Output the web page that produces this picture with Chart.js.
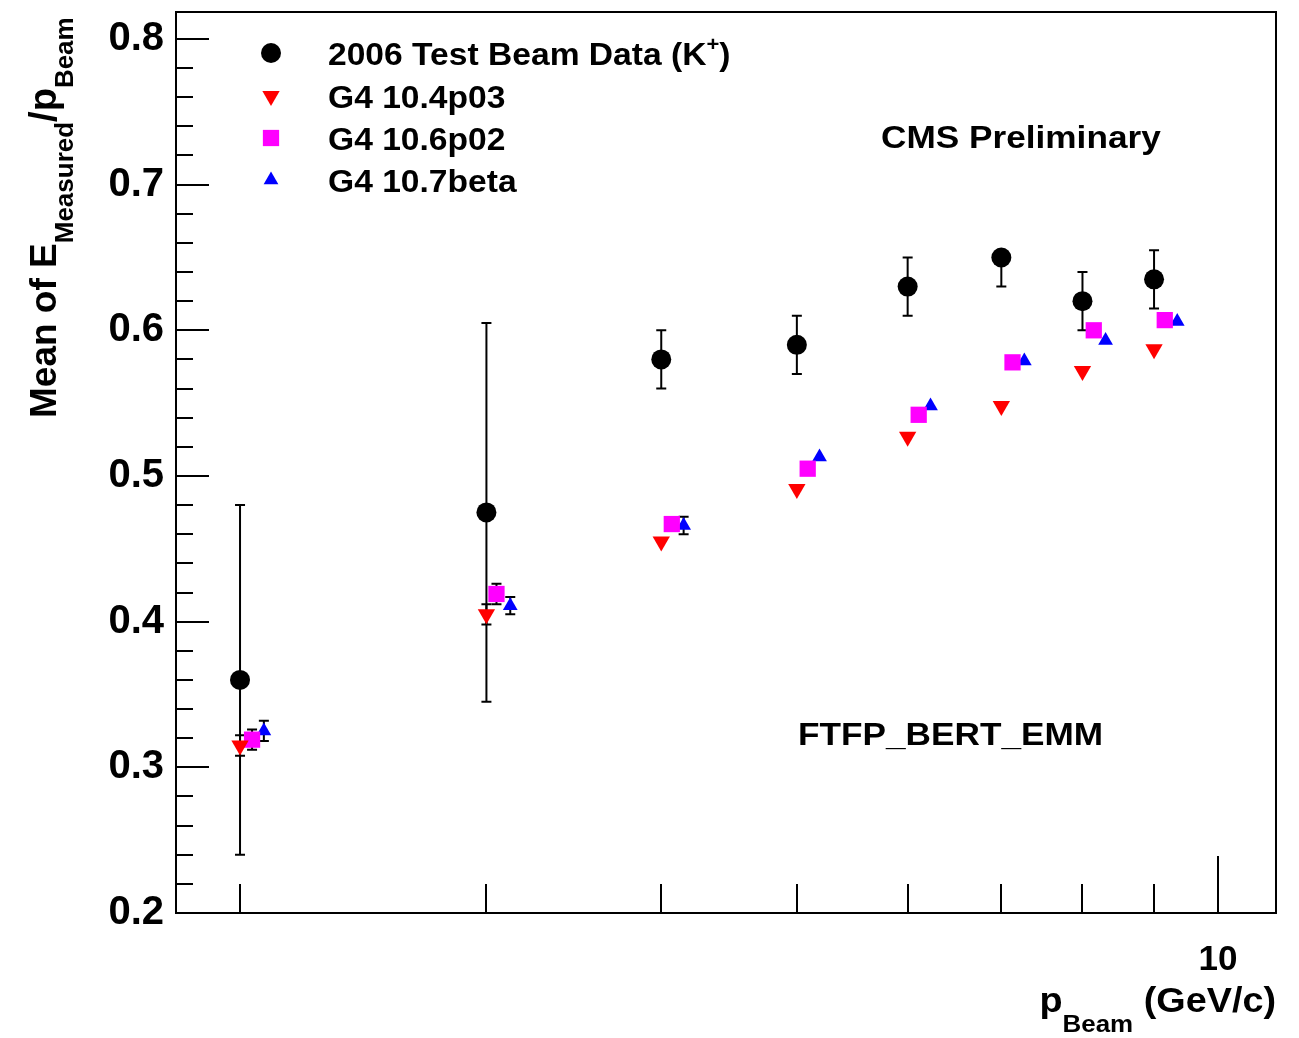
<!DOCTYPE html>
<html lang="en">
<head>
<meta charset="UTF-8">
<title>Mean of E_Measured/p_Beam vs p_Beam</title>
<script src="https://cdn.jsdelivr.net/npm/chart.js"></script>
<style>
  html, body { margin: 0; padding: 0; background: #fff; }
  #c { display: block; }
</style>
</head>
<body>
<canvas id="c" width="1299" height="1038"></canvas>
<script>
// beam momentum (GeV/c); MC points are drawn a little to the right so they don't overlap
const pBeam  = [2, 3, 4, 5, 6, 7, 8, 9];
const pG4106 = [2.04, 3.05, 4.07, 5.09, 6.11, 7.13, 8.15, 9.16];
const pG4107 = [2.08, 3.12, 4.15, 5.19, 6.23, 7.27, 8.31, 9.35];

// 2006 test beam data (K+)
const dataMean    = [0.360, 0.475, 0.580, 0.590, 0.630, 0.650, 0.620, 0.635];
const dataErrUp   = [0.120, 0.130, 0.020, 0.020, 0.020, 0.000, 0.020, 0.020];
const dataErrDown = [0.120, 0.130, 0.020, 0.020, 0.020, 0.020, 0.020, 0.020];

// Geant4 versions
const g4104Mean = [0.315, 0.405, 0.455, 0.491, 0.527, 0.548, 0.572, 0.587];
const g4104Err  = [0.007, 0.007, 0, 0, 0, 0, 0, 0];
const g4106Mean = [0.319, 0.419, 0.467, 0.505, 0.542, 0.578, 0.600, 0.607];
const g4106Err  = [0.007, 0.007, 0, 0, 0, 0, 0, 0];
const g4107Mean = [0.325, 0.411, 0.466, 0.513, 0.548, 0.579, 0.593, 0.606];
const g4107Err  = [0.007, 0.006, 0.006, 0, 0, 0, 0, 0];

const seriesNames = ['2006 Test Beam Data (K', 'G4 10.4p03', 'G4 10.6p02', 'G4 10.7beta'];

// axis ticks
const yMajorTicks = [0.2, 0.3, 0.4, 0.5, 0.6, 0.7, 0.8];
const xLabelTicks = [10];
const xShortTicks = [2, 3, 4, 5, 6, 7, 8, 9];

const FONT = '"Liberation Sans", Arial, Helvetica, sans-serif';

function pts(xs, ys) {
  return xs.map((v, i) => ({ x: v, y: ys[i] }));
}

// text pieces with size and baseline shift, drawn one after another
function drawRich(ctx, parts, x, y, align, stretch) {
  stretch = stretch || 1;
  let total = 0;
  parts.forEach(p => {
    ctx.font = 'bold ' + p.size + 'px ' + FONT;
    p.w = ctx.measureText(p.t).width * stretch;
    total += p.w;
  });
  let cx = align === 'right' ? x - total : x;
  parts.forEach(p => {
    ctx.font = 'bold ' + p.size + 'px ' + FONT;
    ctx.save();
    ctx.translate(cx, y + (p.dy || 0));
    ctx.scale(stretch, 1);
    ctx.fillText(p.t, 0, 0);
    ctx.restore();
    cx += p.w;
  });
}

const rootStyle = {
  id: 'rootStyle',
  beforeDatasetsDraw(chart) {
    const { ctx, scales: { x, y } } = chart;
    ctx.save();
    ctx.strokeStyle = '#000';
    ctx.lineWidth = 2;
    chart.data.datasets.forEach(ds => {
      if (!ds.errUp) return;
      ds.data.forEach((pt, i) => {
        const px = x.getPixelForValue(pt.x);
        const yTop = y.getPixelForValue(pt.y + ds.errUp[i]);
        const yBot = y.getPixelForValue(pt.y - ds.errDown[i]);
        ctx.beginPath();
        ctx.moveTo(px, yTop); ctx.lineTo(px, yBot);
        if (ds.errUp[i] > 0) { ctx.moveTo(px - 5, yTop); ctx.lineTo(px + 5, yTop); }
        if (ds.errDown[i] > 0) { ctx.moveTo(px - 5, yBot); ctx.lineTo(px + 5, yBot); }
        ctx.stroke();
      });
    });
    ctx.restore();
  },
  afterDraw(chart) {
    const { ctx, chartArea: a, scales: { x, y } } = chart;
    ctx.save();
    ctx.strokeStyle = '#000';
    ctx.lineWidth = 2;
    ctx.strokeRect(a.left, a.top, a.right - a.left, a.bottom - a.top);

    // y ticks, inside the frame
    ctx.beginPath();
    for (let v = 0.2; v < y.max; v += 0.02) {
      const major = yMajorTicks.some(t => Math.abs(t - v) < 1e-6);
      const py = Math.round(y.getPixelForValue(v));
      ctx.moveTo(a.left, py);
      ctx.lineTo(a.left + (major ? 33 : 17), py);
    }
    // x ticks
    xShortTicks.forEach(v => {
      const px = Math.round(x.getPixelForValue(v));
      ctx.moveTo(px, a.bottom); ctx.lineTo(px, a.bottom - 29);
    });
    xLabelTicks.forEach(v => {
      const px = Math.round(x.getPixelForValue(v));
      ctx.moveTo(px, a.bottom); ctx.lineTo(px, a.bottom - 57);
    });
    ctx.stroke();

    ctx.fillStyle = '#000';
    ctx.textBaseline = 'alphabetic';

    // axis titles
    drawRich(ctx, [
      { t: 'p', size: 35 },
      { t: 'Beam', size: 24, dy: 20 },
      { t: ' (GeV/c)', size: 35 }
    ], a.right, 1012, 'right', 1.08);

    ctx.save();
    ctx.translate(56, 418);
    ctx.rotate(-Math.PI / 2);
    drawRich(ctx, [
      { t: 'Mean of E', size: 37 },
      { t: 'Measured', size: 26, dy: 17 },
      { t: '/p', size: 38 },
      { t: 'Beam', size: 26, dy: 17 }
    ], 0, 0, 'left');
    ctx.restore();

    // labels
    drawRich(ctx, [{ t: 'CMS Preliminary', size: 32 }], 881, 148, 'left', 1.1);
    drawRich(ctx, [{ t: 'FTFP_BERT_EMM', size: 32 }], 798, 745, 'left', 1.1);

    // legend
    const rows = [53, 96, 138, 180];
    chart.data.datasets.forEach((ds, i) => {
      ctx.fillStyle = ds.backgroundColor;
      Chart.helpers.drawPoint(ctx, {
        pointStyle: ds.pointStyle,
        rotation: ds.rotation || 0,
        radius: ds.pointRadius,
        borderWidth: 0
      }, 271, rows[i]);
      ctx.fillStyle = '#000';
      const parts = [{ t: seriesNames[i], size: 32 }];
      if (i === 0) {
        parts.push({ t: '+', size: 21, dy: -14 });
        parts.push({ t: ')', size: 32 });
      }
      drawRich(ctx, parts, 328, rows[i] + 12, 'left', 1.05);
    });
    ctx.restore();
  }
};

new Chart(document.getElementById('c'), {
  type: 'scatter',
  data: {
    datasets: [
      {
        label: '2006 Test Beam Data (K+)',
        data: pts(pBeam, dataMean),
        errUp: dataErrUp, errDown: dataErrDown,
        pointStyle: 'circle', pointRadius: 10,
        backgroundColor: '#000000', borderWidth: 0
      },
      {
        label: 'G4 10.4p03',
        data: pts(pBeam, g4104Mean),
        errUp: g4104Err, errDown: g4104Err,
        pointStyle: 'triangle', rotation: 180, pointRadius: 10,
        backgroundColor: '#ff0000', borderWidth: 0
      },
      {
        label: 'G4 10.6p02',
        data: pts(pG4106, g4106Mean),
        errUp: g4106Err, errDown: g4106Err,
        pointStyle: 'rect', pointRadius: 11.5,
        backgroundColor: '#ff00ff', borderWidth: 0
      },
      {
        label: 'G4 10.7beta',
        data: pts(pG4107, g4107Mean),
        errUp: g4107Err, errDown: g4107Err,
        pointStyle: 'triangle', pointRadius: 8.5,
        backgroundColor: '#0000ff', borderWidth: 0
      }
    ]
  },
  options: {
    responsive: false,
    animation: false,
    layout: { padding: { left: 0, top: 12, right: 23, bottom: 0 } },
    plugins: { legend: { display: false }, tooltip: { enabled: false } },
    scales: {
      x: {
        type: 'logarithmic',
        min: 1.8, max: 11,
        grid: { display: false, drawTicks: false },
        border: { display: false },
        afterBuildTicks: s => { s.ticks = xLabelTicks.map(v => ({ value: v })); },
        afterFit: s => { s.height = 125; s.paddingLeft = 0; s.paddingRight = 0; },
        ticks: {
          autoSkip: false, maxRotation: 0, padding: 26,
          color: '#000',
          font: { family: FONT, size: 35, weight: 'bold' },
          callback: v => String(v)
        }
      },
      y: {
        min: 0.2, max: 0.8185,
        grid: { display: false, drawTicks: false },
        border: { display: false },
        afterBuildTicks: s => { s.ticks = yMajorTicks.map(v => ({ value: v })); },
        afterFit: s => { s.width = 176; s.paddingTop = 0; s.paddingBottom = 0; },
        ticks: {
          padding: 12,
          color: '#000',
          font: { family: FONT, size: 40, weight: 'bold' },
          callback: v => v.toFixed(1)
        }
      }
    }
  },
  plugins: [rootStyle]
});
</script>
</body>
</html>
